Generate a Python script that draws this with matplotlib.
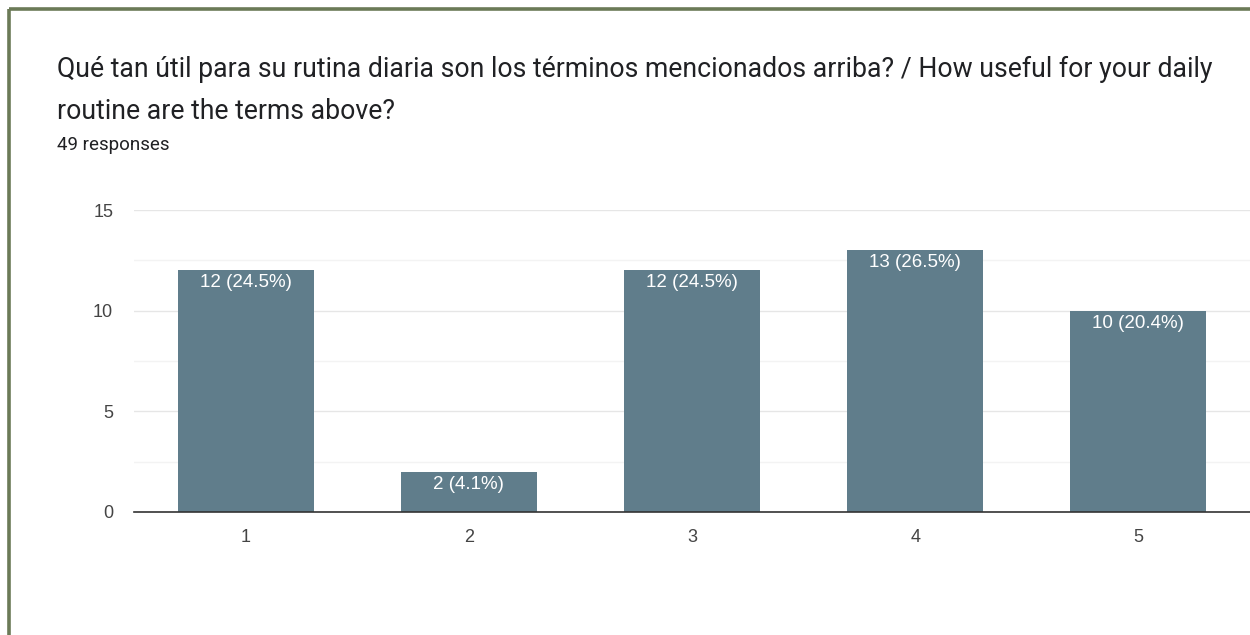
import matplotlib
matplotlib.use("Agg")
import matplotlib.pyplot as plt
from matplotlib.lines import Line2D

categories = ["1", "2", "3", "4", "5"]
counts = [12, 2, 12, 13, 10]
percents = [24.5, 4.1, 24.5, 26.5, 20.4]
yticks = [0, 5, 10, 15]

title_text = "Qué tan útil para su rutina diaria son los términos mencionados arriba? / How useful for your daily\nroutine are the terms above?"
subtitle_text = "49 responses"

W, H = 1250, 635
fig = plt.figure(figsize=(W / 100, H / 100), dpi=100)
fig.patch.set_facecolor("white")

# frame border (left and top)
border_color = "#6b7a57"
fig.add_artist(Line2D([9 / W, 9 / W], [0, 1 - 9 / H], transform=fig.transFigure,
                      color=border_color, linewidth=2.6, solid_capstyle="butt"))
fig.add_artist(Line2D([9 / W, 1], [1 - 9 / H, 1 - 9 / H], transform=fig.transFigure,
                      color=border_color, linewidth=2.6, solid_capstyle="butt"))

fig.text(57 / W, 1 - 56 / H, title_text, ha="left", va="top", fontsize=19.2,
         family="Roboto", color="#202124", linespacing=1.7)
fig.text(57 / W, 1 - 136 / H, subtitle_text, ha="left", va="top", fontsize=13.5,
         family="Roboto", color="#202124")

left, right = 134 / W, 1.0
bottom, top = 1 - 512 / H, 1 - 210 / H
ax = fig.add_axes([left, bottom, right - left, top - bottom])

x = list(range(1, len(categories) + 1))
bars = ax.bar(x, counts, width=0.61, color="#607d8b", zorder=3)

for xi, c, p in zip(x, counts, percents):
    ax.text(xi, c - 0.2, f"{c} ({p}%)", ha="center", va="top", color="white",
            fontsize=13.5, family="Liberation Sans", zorder=4)

ax.set_xlim(0.5, 5.5)
ax.set_ylim(0, 15)
ax.set_yticks(yticks)
ax.set_yticks([2.5, 7.5, 12.5], minor=True)
ax.set_xticks(x)
ax.set_xticklabels(categories)

ax.grid(axis="y", which="major", color="#e6e6e6", linewidth=1.0, zorder=0)
ax.grid(axis="y", which="minor", color="#f3f3f3", linewidth=1.0, zorder=0)

for s in ["top", "right", "left"]:
    ax.spines[s].set_visible(False)
ax.spines["bottom"].set_color("#333333")
ax.spines["bottom"].set_linewidth(1.2)
ax.spines["bottom"].set_zorder(5)

ax.tick_params(axis="both", which="both", length=0, labelsize=13, labelcolor="#444444")
ax.tick_params(axis="y", pad=15)
ax.tick_params(axis="x", pad=12)
for lbl in ax.get_xticklabels() + ax.get_yticklabels():
    lbl.set_family("Liberation Sans")

fig.savefig("out.png", dpi=100)
